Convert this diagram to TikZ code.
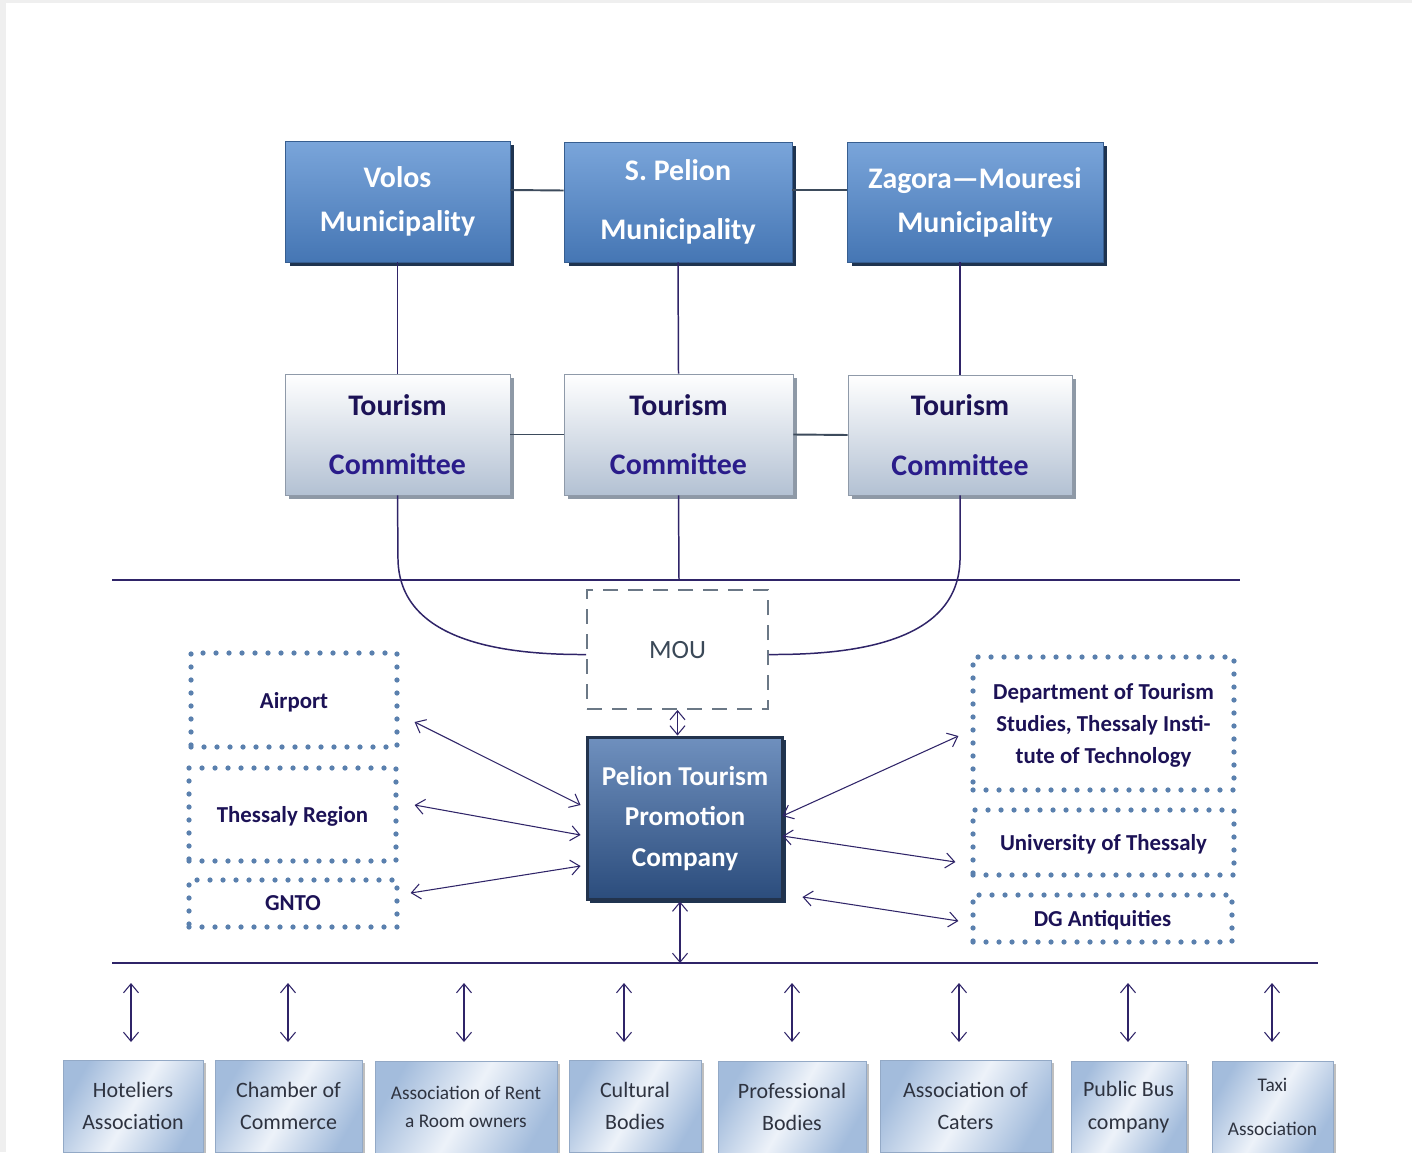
\documentclass[tikz,border=0pt]{standalone}
\usepackage{fontspec}
\setmainfont{Carlito}
\usetikzlibrary{arrows.meta,shadows,calc}
\definecolor{linec}{HTML}{2F2468}
\definecolor{slate}{HTML}{3D4B5C}
\definecolor{navytxt}{HTML}{1C1256}
\definecolor{purptxt}{HTML}{2A1C8A}
\definecolor{dotc}{HTML}{5A80AE}
\definecolor{dashc}{HTML}{6B7886}
\definecolor{mouTxt}{HTML}{3A4857}
\definecolor{botTxt}{HTML}{2E3340}
\definecolor{muniTop}{HTML}{7AA5DA}
\definecolor{muniBot}{HTML}{4576B4}
\definecolor{muniShadow}{HTML}{1F3450}
\definecolor{comBot}{HTML}{B3C1D3}
\definecolor{comShadow}{HTML}{8E99A6}
\definecolor{ptTop}{HTML}{6F90BE}
\definecolor{ptBot}{HTML}{2B4C7C}
\definecolor{ptBorder}{HTML}{22334D}
\definecolor{stakeEdge}{HTML}{A3BCDC}
\definecolor{stakeMid}{HTML}{EDF2F9}
\definecolor{frameg}{HTML}{EFEFEF}

\tikzset{
  muni/.style={top color=muniTop, bottom color=muniBot, draw=muniBot!80!black, line width=0.4pt,
    text=white, font=\bfseries\fontsize{17}{25}\selectfont, align=center, inner sep=0pt,
    drop shadow={shadow xshift=0.09cm, shadow yshift=-0.08cm, fill=muniShadow, opacity=1}},
  committee/.style={top color=white, bottom color=comBot, draw=comBot!80!black, line width=0.4pt,
    font=\bfseries\fontsize{17}{34}\selectfont, align=center, inner sep=0pt,
    drop shadow={shadow xshift=0.08cm, shadow yshift=-0.08cm, fill=comShadow, opacity=1}},
  dotbox/.style={draw=dotc, line width=0.105cm, dash pattern=on 0pt off 0.26cm, line cap=round,
    font=\bfseries\fontsize{13}{18}\selectfont, text=navytxt, align=center, inner sep=0pt},
  moubox/.style={draw=dashc, line width=0.04cm, dash pattern=on 0.3cm off 0.2cm,
    font=\fontsize{15}{18}\selectfont, text=mouTxt, inner sep=0pt},
  company/.style={top color=ptTop, bottom color=ptBot, draw=ptBorder, line width=0.06cm,
    text=white, font=\bfseries\fontsize{15.5}{23}\selectfont, align=center, inner sep=0pt,
    drop shadow={shadow xshift=0.06cm, shadow yshift=-0.06cm, fill=muniShadow, opacity=1}},
  stake/.style={left color=stakeEdge, right color=stakeEdge, middle color=stakeMid, shading angle=60,
    draw=stakeEdge!90!black, line width=0.3pt, text=botTxt, align=center, inner sep=0pt,
    font=\fontsize{12.5}{18.7}\selectfont, minimum height=1.84cm,
    drop shadow={shadow xshift=0.06cm, shadow yshift=-0.06cm, fill=gray, opacity=0.5}},
  conn/.style={draw=linec, line width=0.85pt},
  topconn/.style={draw=slate, line width=1.1pt},
  arr/.style={draw=linec, line width=0.6pt,
    {Straight Barb[length=1.8mm,width=3.0mm]}-{Straight Barb[length=1.8mm,width=3.0mm]}}
}

\begin{document}
\begin{tikzpicture}[x=0.02cm,y=-0.02cm]
\useasboundingbox (0,0) rectangle (1412,1152);
\fill[white] (0,0) rectangle (1412,1152);
\fill[frameg] (0,0) rectangle (1412,3);
\fill[frameg] (0,0) rectangle (6,1152);

% municipalities
\node[muni, minimum width=4.5cm, minimum height=2.42cm] (volos) at (397.5,201.5) {Volos\\Municipality};
\node[muni, minimum width=4.56cm, minimum height=2.4cm, font=\bfseries\fontsize{17}{34}\selectfont] (pelion) at (678,202) {S. Pelion\\Municipality};
\node[muni, minimum width=5.12cm, minimum height=2.4cm] (zagora) at (975,202) {Zagora---Mouresi\\Municipality};

% committees
\node[committee, minimum width=4.5cm, minimum height=2.42cm] (c1) at (397.5,434.5) {\color{navytxt}Tourism\\\color{purptxt}Committee};
\node[committee, minimum width=4.58cm, minimum height=2.42cm] (c2) at (678.5,434.5) {\color{navytxt}Tourism\\\color{purptxt}Committee};
\node[committee, minimum width=4.48cm, minimum height=2.4cm] (c3) at (960,435) {\color{navytxt}Tourism\\\color{purptxt}Committee};

% top connectors
\draw[topconn] ([yshift=0.23cm]volos.east) -- ([yshift=0.23cm]pelion.west);
\draw[topconn] ([yshift=0.24cm]pelion.east) -- ([yshift=0.24cm]zagora.west);
\draw[conn] (volos.south) -- (c1.north);
\draw[conn] (pelion.south) -- (c2.north);
\draw[conn] (c3.north |- zagora.south) -- (c3.north);
\draw[topconn] (c1.east) -- (c2.west);
\draw[topconn] (c2.east) -- (c3.west);

% horizontal rules
\coordinate (r1a) at (112,580);
\coordinate (r1b) at (1240,580);
\coordinate (r2a) at (112,963);
\coordinate (r2b) at (1318,963);
\draw[conn] (r1a) -- (r1b);
\draw[conn] (r2a) -- (r2b);

% MOU
\node[moubox, minimum width=3.62cm, minimum height=2.38cm, text depth=0pt] (mou) at (677.5,649.5) {MOU};

% curves to MOU
\coordinate (mid) at (679,580);
\draw[conn] (c2.south) -- (mid);
\draw[conn] (c1.south) -- (398,560) .. controls (400,640) and (500,655) .. ([yshift=-0.1cm]mou.west);
\draw[conn] (c3.south) -- (960,560) .. controls (958,640) and (860,655) .. ([yshift=-0.1cm]mou.east);

% company
\node[company, minimum width=3.92cm, minimum height=3.26cm] (company) at (685,818.5) {Pelion Tourism\\Promotion\\Company};
\draw[arr] (mou.south) -- (mou.south |- company.north);
\coordinate (lineb) at (680,963);
\draw[arr] (company.south -| lineb) -- (lineb);

% left partners
\node[dotbox, minimum width=4.12cm, minimum height=1.88cm, text depth=0pt] (airport) at (294,700) {Airport};
\node[dotbox, minimum width=4.14cm, minimum height=1.86cm, text depth=0pt] (thessaly) at (292.5,814.5) {Thessaly Region};
\node[dotbox, minimum width=4.16cm, minimum height=0.94cm] (gnto) at (293,903.5) {GNTO};

\draw[arr] ($(airport.east)+(15,22)$) -- ($(company.west)+(-5,-13.5)$);
\draw[arr] ($(thessaly.east)+(16,-9.5)$) -- ($(company.west)+(-5,16.5)$);
\draw[arr] ($(gnto.east)+(11,-10.5)$) -- ($(company.west)+(-5,47.5)$);

% right partners
\node[dotbox, minimum width=5.22cm, minimum height=2.66cm, text depth=0pt] (dept) at (1103.5,723.5) {Department of Tourism\\Studies, Thessaly Insti-\\tute of Technology};
\node[dotbox, minimum width=5.22cm, minimum height=1.3cm, text depth=0pt] (univ) at (1103.5,842.5) {University of Thessaly};
\node[dotbox, minimum width=5.18cm, minimum height=0.94cm, text depth=0pt] (dg) at (1102.5,918.5) {DG Antiquities};

\draw[arr] ($(company.east)+(-2,-2.5)$) -- ($(dept.west)+(-12,12.5)$);
\draw[arr] ($(company.east)+(-2,17.5)$) -- ($(univ.west)+(-15,19.5)$);
\draw[arr] ($(company.east)+(18,78.5)$) -- ($(dg.west)+(-12,2.5)$);

% stakeholders
\node[stake, minimum width=2.8cm] (b1) at (133,1106) {Hoteliers\\Association};
\node[stake, minimum width=2.94cm] (b2) at (288.5,1106) {Chamber of\\Commerce};
\node[stake, minimum width=3.64cm, font=\fontsize{11}{16}\selectfont] (b3) at (466,1107) {Association of Rent\\a Room owners};
\node[stake, minimum width=2.64cm] (b4) at (635,1106) {Cultural\\Bodies};
\node[stake, minimum width=2.96cm] (b5) at (792,1107) {Professional\\Bodies};
\node[stake, minimum width=3.42cm] (b6) at (965.5,1106) {Association of\\Caters};
\node[stake, minimum width=2.3cm] (b7) at (1128.5,1107) {Public Bus\\company};
\node[stake, minimum width=2.42cm, font=\fontsize{11}{25}\selectfont] (b8) at (1272.5,1107) {Taxi\\Association};

\foreach \i/\x in {1/131,2/288,3/464,4/624,5/792,6/959,7/1128,8/1272}{
  \coordinate (t\i) at (\x,983);
  \coordinate (u\i) at (\x,1042);
  \draw[arr] (t\i) -- (u\i);
}
\end{tikzpicture}
\end{document}
